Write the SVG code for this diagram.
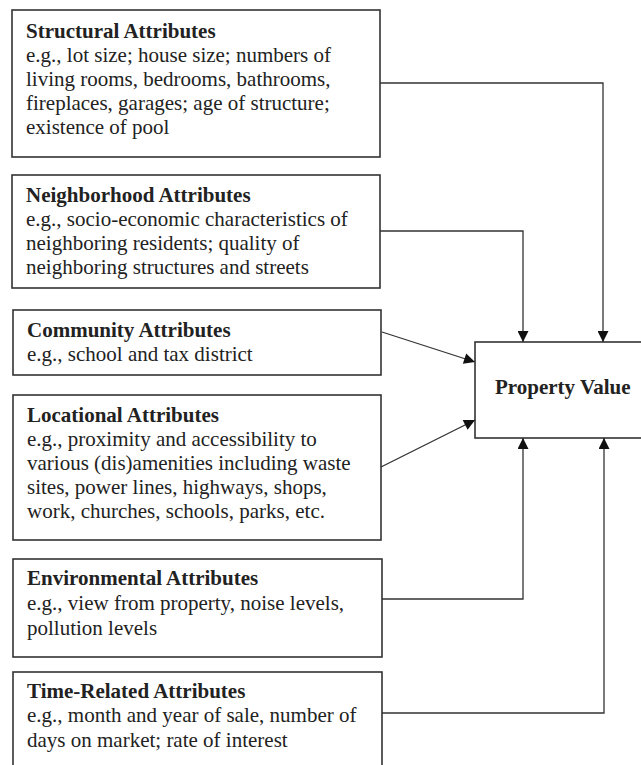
<svg xmlns="http://www.w3.org/2000/svg" width="641" height="765" viewBox="0 0 641 765">
<style>
.box{fill:#fff;stroke:#333;stroke-width:1.6}
.t{font-family:"Liberation Serif","Times New Roman",serif;font-size:21px;fill:#222}
.b{font-weight:bold}
.c{fill:none;stroke:#333;stroke-width:1.3}
</style>
<defs>
<marker id="ah" viewBox="0 0 10 10" refX="10" refY="5" markerWidth="12" markerHeight="11" markerUnits="userSpaceOnUse" orient="auto">
<path d="M0,0 L10,5 L0,10 z" fill="#111"/>
</marker>
</defs>
<rect width="641" height="765" fill="#fff"/>
<g id="structural">
<rect class="box" x="12" y="10" width="368" height="147"/>
<text class="t"><tspan class="b" x="26" y="38">Structural Attributes</tspan><tspan x="26" y="62">e.g., lot size; house size; numbers of</tspan><tspan x="26" y="86">living rooms, bedrooms, bathrooms,</tspan><tspan x="26" y="110">fireplaces, garages; age of structure;</tspan><tspan x="26" y="134">existence of pool</tspan></text>
</g>
<g id="neighborhood">
<rect class="box" x="12" y="175" width="368" height="113"/>
<text class="t"><tspan class="b" x="26" y="202">Neighborhood Attributes</tspan><tspan x="26" y="226">e.g., socio-economic characteristics of</tspan><tspan x="26" y="250">neighboring residents; quality of</tspan><tspan x="26" y="274">neighboring structures and streets</tspan></text>
</g>
<g id="community">
<rect class="box" x="13" y="310" width="368" height="65"/>
<text class="t"><tspan class="b" x="27" y="337">Community Attributes</tspan><tspan x="27" y="361">e.g., school and tax district</tspan></text>
</g>
<g id="locational">
<rect class="box" x="13" y="395" width="368" height="145"/>
<text class="t"><tspan class="b" x="27" y="422">Locational Attributes</tspan><tspan x="27" y="446">e.g., proximity and accessibility to</tspan><tspan x="27" y="470">various (dis)amenities including waste</tspan><tspan x="27" y="494">sites, power lines, highways, shops,</tspan><tspan x="27" y="518">work, churches, schools, parks, etc.</tspan></text>
</g>
<g id="environmental">
<rect class="box" x="13" y="559" width="369" height="98"/>
<text class="t"><tspan class="b" x="27" y="585">Environmental Attributes</tspan><tspan x="27" y="610">e.g., view from property, noise levels,</tspan><tspan x="27" y="635">pollution levels</tspan></text>
</g>
<g id="time">
<rect class="box" x="13" y="672" width="369" height="110"/>
<text class="t"><tspan class="b" x="27" y="698">Time-Related Attributes</tspan><tspan x="27" y="722">e.g., month and year of sale, number of</tspan><tspan x="27" y="747">days on market; rate of interest</tspan></text>
</g>
<g id="property">
<rect class="box" x="475" y="342" width="180" height="96"/>
<text class="t b" x="495" y="394">Property Value</text>
</g>
<g id="connectors">
<path class="c" d="M380,83 H603 V342" marker-end="url(#ah)"/>
<path class="c" d="M380,231 H523 V342" marker-end="url(#ah)"/>
<path class="c" d="M382,332 L475,362" marker-end="url(#ah)"/>
<path class="c" d="M381,467 L475,420" marker-end="url(#ah)"/>
<path class="c" d="M382,599 H523 V438" marker-end="url(#ah)"/>
<path class="c" d="M382,713 H604 V438" marker-end="url(#ah)"/>
</g>
</svg>
